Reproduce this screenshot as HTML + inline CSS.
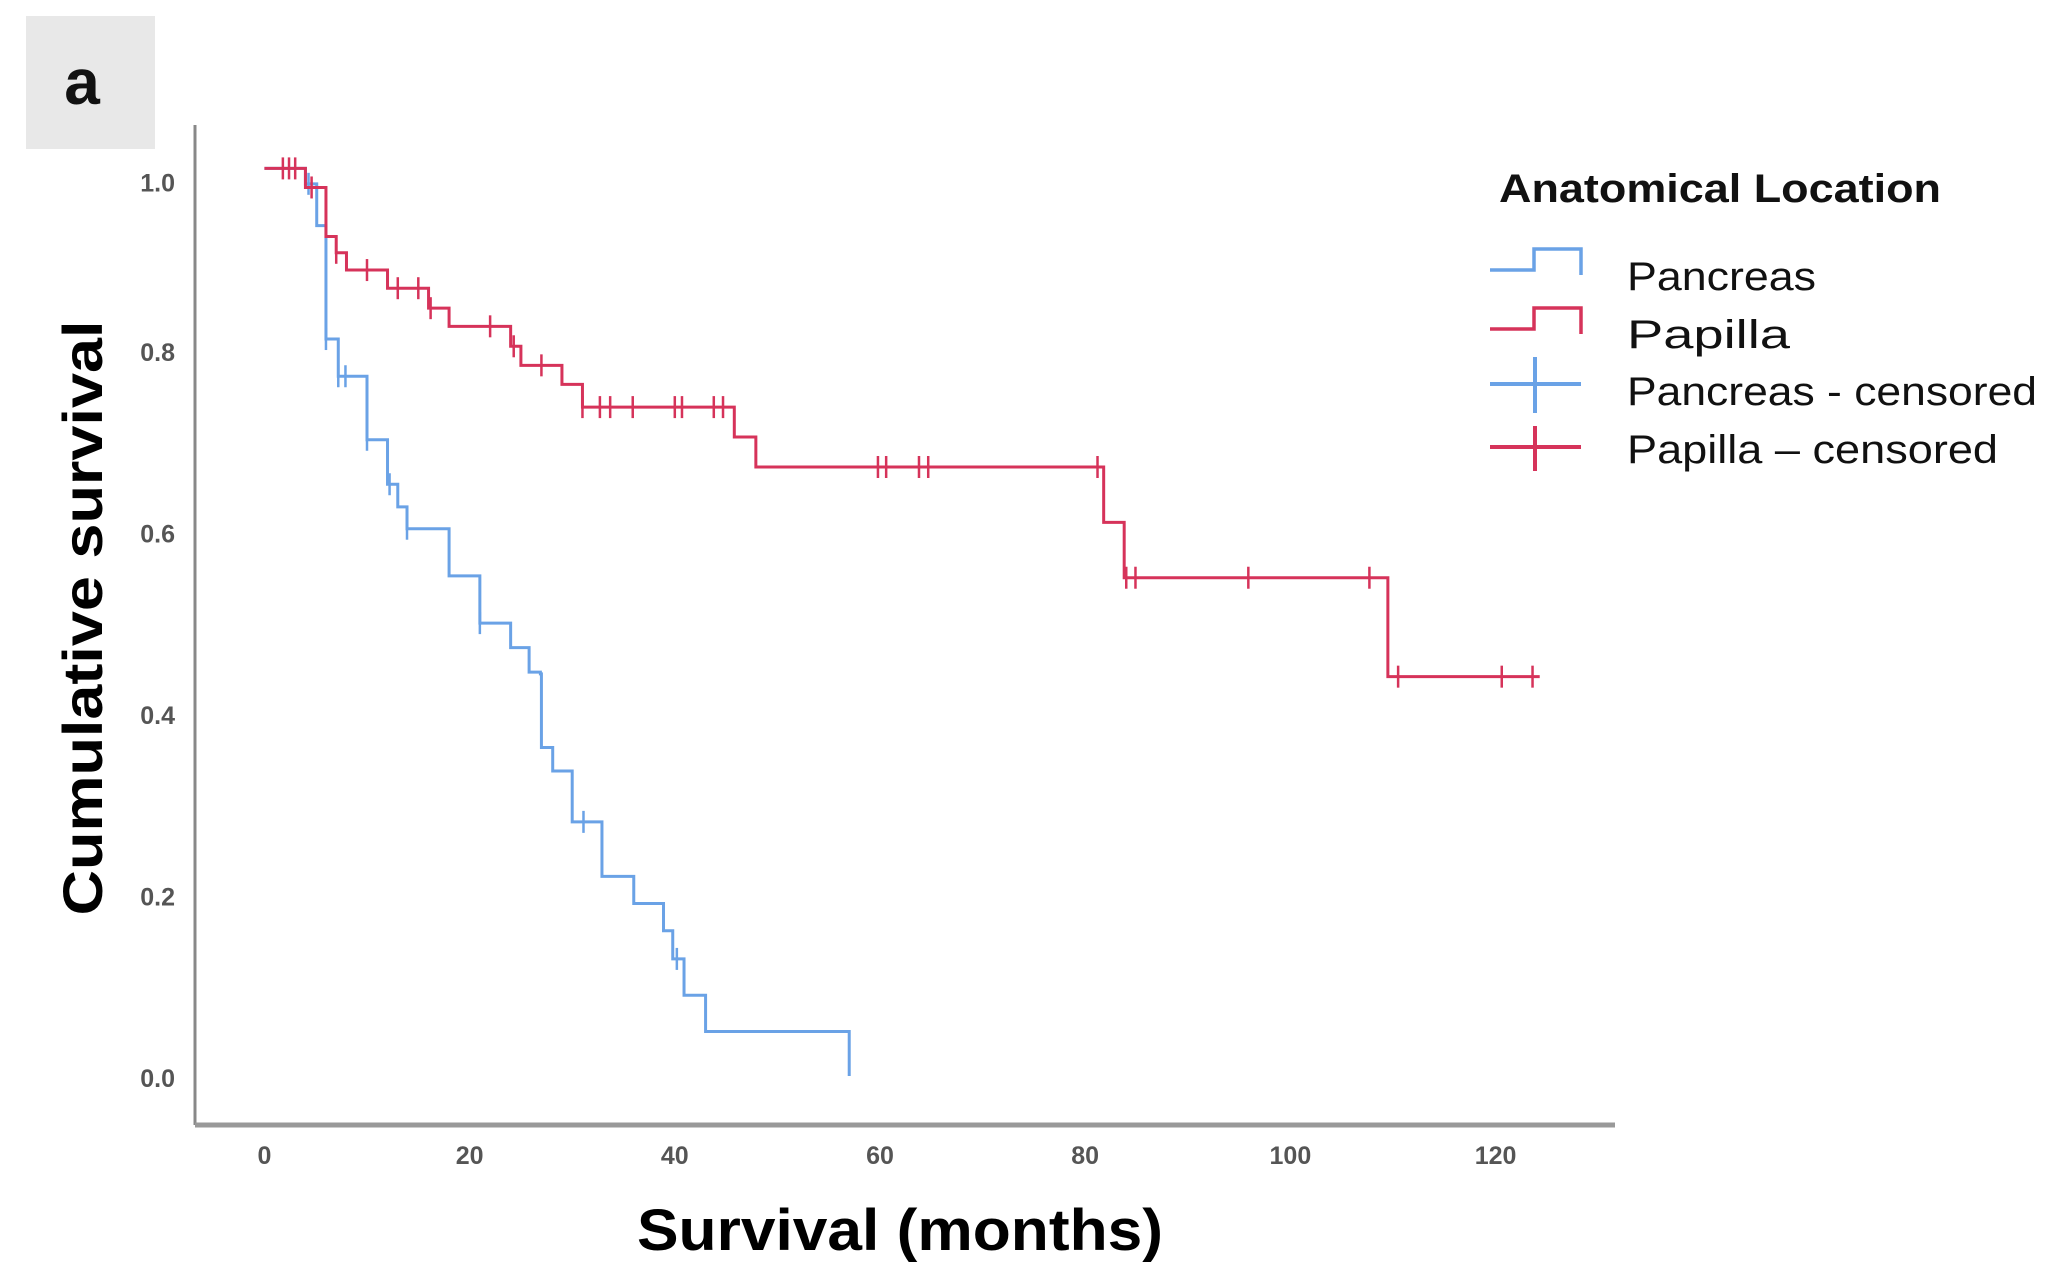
<!DOCTYPE html>
<html><head><meta charset="utf-8"><style>
html,body{margin:0;padding:0;background:#fff;}
svg{display:block;font-family:"Liberation Sans",sans-serif;}
</style></head><body>
<svg id="chart" width="2052" height="1283" viewBox="0 0 2052 1283" xmlns="http://www.w3.org/2000/svg">
<rect x="26" y="16" width="129" height="133" fill="#e8e8e8"/>
<text x="82" y="104" font-family="Liberation Sans, sans-serif" font-size="64" font-weight="bold" text-anchor="middle" fill="#111">a</text>
<line x1="195" y1="125" x2="195" y2="1125" stroke="#888" stroke-width="3"/>
<line x1="195" y1="1125" x2="1615" y2="1125" stroke="#999" stroke-width="5"/>
<text transform="translate(102,618) rotate(-90)" font-size="56" font-weight="bold" text-anchor="middle" textLength="595" lengthAdjust="spacingAndGlyphs" fill="#000">Cumulative survival</text>
<text x="900" y="1250" font-size="58" font-weight="bold" text-anchor="middle" textLength="526" lengthAdjust="spacingAndGlyphs" fill="#000">Survival (months)</text>
<g id="yticks"></g><g id="xticks"></g><g id="series"></g>
<g>
<text x="1499" y="202" font-size="40" font-weight="bold" textLength="442" lengthAdjust="spacingAndGlyphs" fill="#111">Anatomical Location</text>
<polyline points="1490,270 1534,270 1534,249 1581,249 1581,275" fill="none" stroke="#6aa2e6" stroke-width="3.5"/>
<text x="1627" y="290" font-size="40" textLength="189" lengthAdjust="spacingAndGlyphs" fill="#111">Pancreas</text>
<polyline points="1490,329 1534,329 1534,308 1581,308 1581,334" fill="none" stroke="#d6335a" stroke-width="3.5"/>
<text x="1627" y="348" font-size="40" textLength="163" lengthAdjust="spacingAndGlyphs" fill="#111">Papilla</text>
<g stroke="#6aa2e6" stroke-width="4"><line x1="1490" y1="384" x2="1581" y2="384"/><line x1="1535" y1="357" x2="1535" y2="413"/></g>
<text x="1627" y="405" font-size="40" textLength="410" lengthAdjust="spacingAndGlyphs" fill="#111">Pancreas - censored</text>
<g stroke="#d6335a" stroke-width="4"><line x1="1490" y1="447" x2="1581" y2="447"/><line x1="1535" y1="426" x2="1535" y2="471"/></g>
<text x="1627" y="463" font-size="40" textLength="371" lengthAdjust="spacingAndGlyphs" fill="#111">Papilla – censored</text>
</g>
</svg>
<script>
const yTickValues = [0.0, 0.2, 0.4, 0.6, 0.8, 1.0];
const yTickLabels = ["0.0", "0.2", "0.4", "0.6", "0.8", "1.0"];
const xTickValues = [0, 20, 40, 60, 80, 100, 120];
const xTickLabels = ["0", "20", "40", "60", "80", "100", "120"];

const pancreasStepTimes = [4, 5.1, 6, 7.2, 10, 12, 13, 13.9, 18, 21, 24, 25.8, 26.9, 27, 28.1, 30, 32.9, 36, 38.9, 39.8, 40.9, 43, 57];
const pancreasStepSurv  = [0.983, 0.937, 0.812, 0.771, 0.701, 0.652, 0.627, 0.603, 0.551, 0.499, 0.472, 0.445, 0.443, 0.362, 0.336, 0.28, 0.22, 0.19, 0.16, 0.129, 0.089, 0.049, 0.0];
const pancreasCensored  = [4.3, 6, 7.2, 7.9, 10, 12.2, 13.9, 21, 31.1, 40.2];
const pancreasEnd = 57;

const papillaStepTimes = [4, 6, 7, 8, 12, 16, 18, 24, 25, 29, 31, 45.8, 47.9, 81.8, 83.8, 109.5];
const papillaStepSurv  = [0.979, 0.925, 0.907, 0.888, 0.868, 0.846, 0.826, 0.804, 0.783, 0.762, 0.737, 0.704, 0.671, 0.61, 0.549, 0.44];
const papillaCensored  = [1.8, 2.4, 3, 4.6, 7, 10, 13, 15, 16.2, 22, 24.3, 27, 31, 32.7, 33.7, 35.9, 40, 40.7, 43.8, 44.7, 59.8, 60.6, 63.8, 64.7, 81.2, 84, 84.9, 95.9, 107.7, 110.5, 120.6, 123.6];
const papillaEnd = 124.3;

function X(m){ return 264.4 + m * 10.26; }
function Y(s){ return 1076 - s * 907.6; }
const NS = "http://www.w3.org/2000/svg";
function mk(tag, attrs, parent){ const e = document.createElementNS(NS, tag); for (const k in attrs) e.setAttribute(k, attrs[k]); parent.appendChild(e); return e; }

const yg = document.getElementById('yticks');
yTickValues.forEach((v, i) => {
  const t = mk('text', {x: 175, y: Y(v) + (v === 1 ? 14 : 2) + 9, 'font-size': 25, 'text-anchor': 'end', fill: '#555', 'font-weight': '600'}, yg);
  
  
  t.textContent = yTickLabels[i];
});
const xg = document.getElementById('xticks');
xTickValues.forEach((v, i) => {
  const t = mk('text', {x: X(v), y: 1164, 'font-size': 25, 'text-anchor': 'middle', fill: '#555', 'font-weight': '600'}, xg);
  
  
  t.textContent = xTickLabels[i];
});

function survAt(times, surv, t){ let s = 1; for (let i = 0; i < times.length; i++){ if (times[i] <= t) s = surv[i]; } return s; }

function drawSeries(name, times, surv, cens, end, color){
  const g = document.getElementById('series');
  let pts = [[X(0), Y(1)]]; let s = 1;
  for (let i = 0; i < times.length; i++){ pts.push([X(times[i]), Y(s)]); s = surv[i]; pts.push([X(times[i]), Y(s)]); }
  pts.push([X(end), Y(s)]);
  const p = mk('polyline', {points: pts.map(q => q.join(',')).join(' '), fill: 'none', stroke: color, 'stroke-width': 3, 'stroke-linejoin': 'miter'}, g);
  
  
  cens.forEach(c => {
    const y = Y(survAt(times, surv, c));
    const l = mk('line', {x1: X(c), x2: X(c), y1: y - 11, y2: y + 11, stroke: color, 'stroke-width': 2.5}, g);
    
    
  });
}
drawSeries('pancreas', pancreasStepTimes, pancreasStepSurv, pancreasCensored, pancreasEnd, '#6aa2e6');
drawSeries('papilla', papillaStepTimes, papillaStepSurv, papillaCensored, papillaEnd, '#d6335a');
</script>
</body></html>
